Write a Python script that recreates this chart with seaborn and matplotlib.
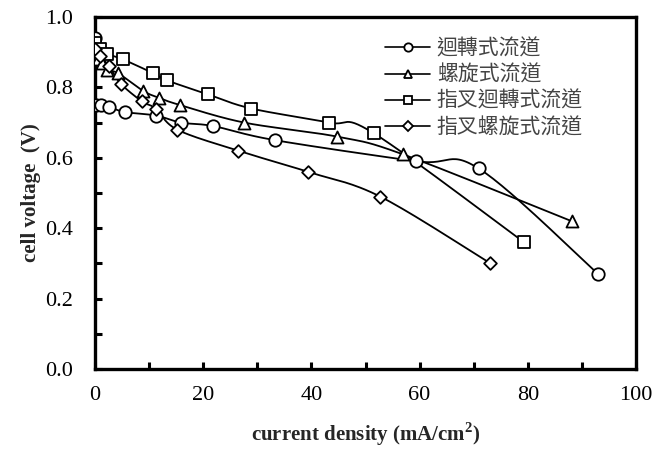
import numpy as np
import pandas as pd
import matplotlib
matplotlib.use("Agg")
import matplotlib.pyplot as plt
import seaborn as sns
from matplotlib.lines import Line2D
from matplotlib.ticker import MultipleLocator

# ---- data ----
series_names = ["迴轉式流道", "螺旋式流道", "指叉迴轉式流道", "指叉螺旋式流道"]

x_circle = [0.0, 0.2, 1.1, 2.6, 5.5, 11.3, 15.9, 21.9, 33.3, 59.4, 70.9, 93.0]
y_circle = [0.94, 0.75, 0.75, 0.745, 0.73, 0.72, 0.70, 0.69, 0.65, 0.59, 0.57, 0.27]

x_tri = [0.0, 0.6, 1.3, 2.2, 4.3, 8.9, 11.9, 15.7, 27.6, 44.8, 56.9, 88.1]
y_tri = [0.89, 0.88, 0.87, 0.85, 0.84, 0.79, 0.77, 0.75, 0.70, 0.66, 0.61, 0.42]

x_sq = [0.0, 1.0, 2.2, 5.1, 10.8, 13.3, 20.9, 28.9, 43.3, 51.5, 79.3]
y_sq = [0.925, 0.91, 0.895, 0.88, 0.84, 0.82, 0.78, 0.74, 0.70, 0.67, 0.36]

x_dia = [0.0, 1.0, 2.6, 4.8, 8.7, 11.2, 15.2, 26.5, 39.4, 52.7, 73.1]
y_dia = [0.91, 0.89, 0.86, 0.81, 0.76, 0.74, 0.68, 0.62, 0.56, 0.49, 0.30]

x_ticks = [0, 20, 40, 60, 80, 100]
y_ticks = [0.0, 0.2, 0.4, 0.6, 0.8, 1.0]

xs = [x_circle, x_tri, x_sq, x_dia]
ys = [y_circle, y_tri, y_sq, y_dia]
marker_map = {series_names[0]: "o", series_names[1]: "^",
              series_names[2]: "s", series_names[3]: "D"}
marker_size = {"o": 80, "^": 75, "s": 75, "D": 42}

df = pd.concat([pd.DataFrame({"x": x, "y": y, "series": n})
                for x, y, n in zip(xs, ys, series_names)], ignore_index=True)

sns.set_theme(style="white")
plt.rcParams["font.family"] = ["Liberation Serif", "DejaVu Serif"]
plt.rcParams["mathtext.fontset"] = "custom"
plt.rcParams["mathtext.rm"] = "Liberation Serif"
plt.rcParams["mathtext.bf"] = "Liberation Serif:bold"

fig = plt.figure(figsize=(6.53, 4.55), dpi=100)
W, H = 653, 455
ax = fig.add_axes([95 / W, 1 - 369 / H, (636 - 95) / W, (369 - 17) / H])


def smooth(x, y, n=30):
    # Excel-style smoothed line (cubic Bezier, Catmull-Rom control points)
    p = np.column_stack([x, y]).astype(float)
    out = []
    for i in range(len(p) - 1):
        p0 = p[i - 1] if i > 0 else p[i]
        p1, p2 = p[i], p[i + 1]
        p3 = p[i + 2] if i + 2 < len(p) else p[i + 1]
        c1 = p1 + (p2 - p0) / 6.0
        c2 = p2 - (p3 - p1) / 6.0
        t = np.linspace(0, 1, n)[:, None]
        seg = ((1 - t) ** 3) * p1 + 3 * ((1 - t) ** 2) * t * c1 + 3 * (1 - t) * t ** 2 * c2 + t ** 3 * p2
        out.append(seg)
    out = np.vstack(out)
    return out[:, 0], out[:, 1]


for name in series_names:
    d = df[df.series == name]
    sx, sy = smooth(d.x.values, d.y.values)
    ax.plot(sx, sy, color="black", lw=1.3, zorder=2)
    m = marker_map[name]
    sns.scatterplot(data=d, x="x", y="y", marker=m, s=marker_size[m],
                    facecolor="white", edgecolor="black", linewidth=1.3,
                    ax=ax, zorder=3, legend=False)

ax.set_xlim(0, 100)
ax.set_ylim(0, 1.0)
ax.set_xticks(x_ticks)
ax.set_yticks(y_ticks)
ax.set_xticklabels([f"{v:d}" for v in x_ticks])
ax.set_yticklabels([f"{v:.1f}" for v in y_ticks])
ax.xaxis.set_minor_locator(MultipleLocator(10))
ax.yaxis.set_minor_locator(MultipleLocator(0.1))
ax.tick_params(axis="both", which="both", direction="in", colors="black",
               width=2.2, labelsize=16)
ax.tick_params(axis="both", which="major", length=5)
ax.tick_params(axis="both", which="minor", length=5)
ax.tick_params(axis="y", which="both", pad=16, left=True, right=False)
ax.tick_params(axis="x", which="both", pad=12, bottom=True, top=False)

for s in ax.spines.values():
    s.set_visible(True)
    s.set_color("black")
    s.set_linewidth(2.4)

ax.set_xlabel(r"current density (mA/cm$^{\mathbf{2}}$)", fontsize=15,
              fontweight="bold", labelpad=11)
ax.set_ylabel("cell voltage  (V)", fontsize=15, fontweight="bold", labelpad=3)
ax.grid(False)

handles = [Line2D([0], [0], color="black", lw=1.2, marker=marker_map[n],
                  markersize=6 if marker_map[n] != "D" else 5,
                  markerfacecolor="white", markeredgecolor="black",
                  markeredgewidth=1.3)
           for n in series_names]
leg = ax.legend(handles, series_names, loc="upper left",
                bbox_to_anchor=(0.52, 0.965), frameon=False,
                prop={"family": ["Noto Sans CJK TC", "DejaVu Sans"], "size": 15},
                handlelength=2.2, handletextpad=0.3, labelspacing=0.2,
                borderaxespad=0)
for t in leg.get_texts():
    t.set_color("#444444")

fig.savefig("out.png", dpi=100)
